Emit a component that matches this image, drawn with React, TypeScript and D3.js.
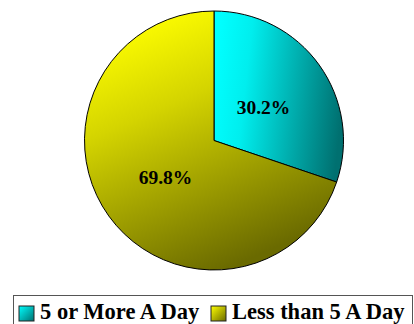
import React from "react";
import * as d3 from "d3";

const categories = ["5 or More A Day", "Less than 5 A Day"];
const values = [30.2, 69.8];
const labels = ["30.2%", "69.8%"];

const W = 414;
const H = 324;
const cx = 214;
const cy = 140.5;
const R = 129.5;

const gradColors = [
  ["#00ffff", "#007070"],
  ["#ffff00", "#6a6a00"],
];

const font = "Liberation Serif";

export default function App() {
  const pie = d3.pie<number>().sort(null).startAngle(0).endAngle(2 * Math.PI)(values);
  const arc = d3.arc<d3.PieArcDatum<number>>().innerRadius(0).outerRadius(R);
  const legendX = [19, 211];
  const labelPos = [
    [263.5, 114],
    [165.5, 184],
  ];
  return (
    <svg width={W} height={H} style={{ position: "absolute", left: 0, top: 0, background: "#fff" }}>
      <defs>
        <linearGradient id="g0" x1="0" y1="0.35" x2="1" y2="0.5">
          <stop offset="0" stopColor={gradColors[0][0]} />
          <stop offset="0.25" stopColor="#00eeee" />
          <stop offset="1" stopColor={gradColors[0][1]} />
        </linearGradient>
        <linearGradient id="g1" x1="0.15" y1="0.05" x2="0.55" y2="1">
          <stop offset="0" stopColor={gradColors[1][0]} />
          <stop offset="0.35" stopColor="#d4d400" />
          <stop offset="1" stopColor={gradColors[1][1]} />
        </linearGradient>
        <linearGradient id="lg0" x1="0" y1="0" x2="1" y2="1">
          <stop offset="0" stopColor={gradColors[0][0]} />
          <stop offset="1" stopColor={gradColors[0][1]} />
        </linearGradient>
        <linearGradient id="lg1" x1="0" y1="0" x2="1" y2="1">
          <stop offset="0" stopColor={gradColors[1][0]} />
          <stop offset="1" stopColor={gradColors[1][1]} />
        </linearGradient>
      </defs>
      <g transform={`translate(${cx},${cy})`}>
        {pie.map((d, i) => (
          <path key={i} d={arc(d) || ""} fill={`url(#g${i})`} stroke="#000" strokeWidth={1} />
        ))}
      </g>
      {labels.map((l, i) => (
        <text
          key={l}
          x={labelPos[i][0]}
          y={labelPos[i][1]}
          textAnchor="middle"
          style={{ fontFamily: font, fontWeight: "bold", fontSize: "19.5px" }}
          fill="#000"
        >
          {l}
        </text>
      ))}
      <rect x={13.5} y={295.5} width={399} height={40} fill="#fff" stroke="#555" strokeWidth={1} />
      {categories.map((c, i) => (
        <g key={c}>
          <rect x={legendX[i]} y={306} width={15} height={15} fill={`url(#lg${i})`} stroke="#222" strokeWidth={1} />
          <text
            x={legendX[i] + 21}
            y={319}
            style={{ fontFamily: font, fontWeight: "bold", fontSize: "22.5px" }}
            fill="#000"
          >
            {c}
          </text>
        </g>
      ))}
    </svg>
  );
}
